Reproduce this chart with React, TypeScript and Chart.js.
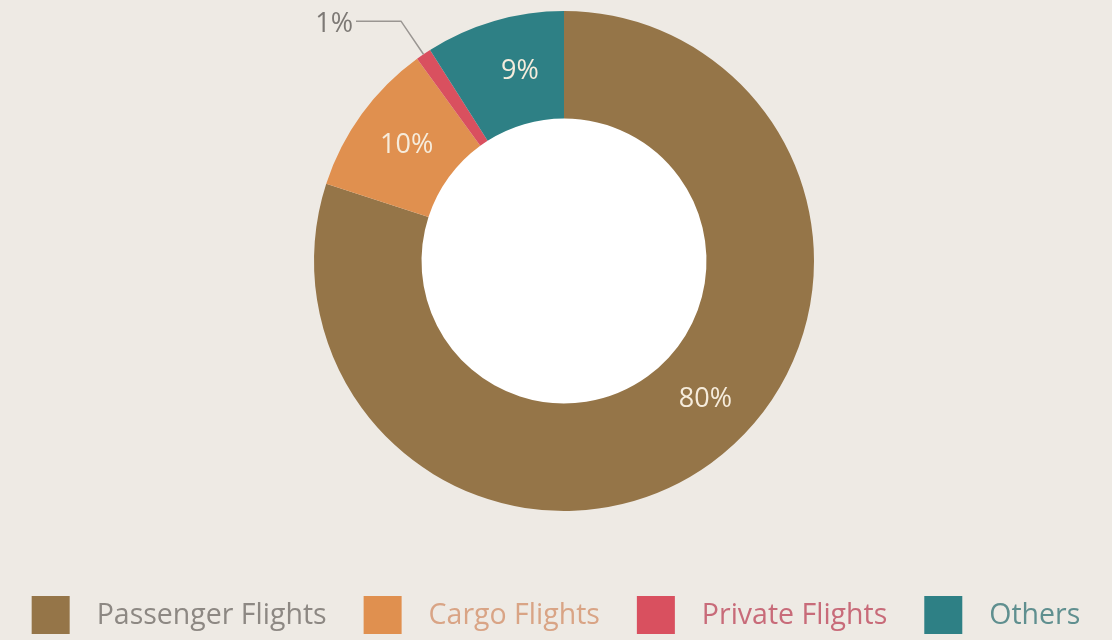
import React, { useEffect, useRef } from "react";
import { Chart, registerables } from "chart.js";

Chart.register(...registerables);

const categories = ["Passenger Flights", "Cargo Flights", "Private Flights", "Others"];
const shares = [80, 10, 1, 9];
const sliceColors = ["#957548", "#E0904F", "#D9505F", "#2E8085"];
const legendTextColors = ["#8d8883", "#d9a485", "#c86b79", "#5f8f8f"];
const valueLabels = ["80%", "10%", "1%", "9%"];
// fraction along each slice's arc where its label sits; null = outside label with leader
const labelFractions: (number | null)[] = [0.465, 0.52, null, 0.6];

const BG = "#EEEAE4";
const FONT = "'Open Sans', 'DejaVu Sans', sans-serif";

const holePlugin = {
  id: "whiteHole",
  beforeDatasetsDraw(chart: any) {
    const ctx = chart.ctx as CanvasRenderingContext2D;
    const arc = chart.getDatasetMeta(0).data[0];
    if (!arc) return;
    const { x, y, innerRadius } = arc.getProps(["x", "y", "innerRadius"], true);
    ctx.save();
    ctx.fillStyle = "#ffffff";
    ctx.beginPath();
    ctx.arc(x, y, innerRadius + 1, 0, Math.PI * 2);
    ctx.fill();
    ctx.restore();
  },
};

const labelPlugin = {
  id: "sliceLabels",
  afterDatasetsDraw(chart: any) {
    const ctx = chart.ctx as CanvasRenderingContext2D;
    const meta = chart.getDatasetMeta(0);
    ctx.save();
    meta.data.forEach((arc: any, i: number) => {
      const { x, y, startAngle, endAngle, innerRadius, outerRadius } = arc.getProps(
        ["x", "y", "startAngle", "endAngle", "innerRadius", "outerRadius"],
        true
      );
      const frac = labelFractions[i];
      if (frac !== null) {
        const a = startAngle + (endAngle - startAngle) * frac;
        const r = (innerRadius + outerRadius) / 2;
        ctx.font = `400 27px ${FONT}`;
        ctx.fillStyle = "#f6ecdc";
        ctx.textAlign = "center";
        ctx.textBaseline = "middle";
        ctx.fillText(valueLabels[i], x + Math.cos(a) * r, y + Math.sin(a) * r + 2);
      } else {
        const a = (startAngle + endAngle) / 2;
        const px = x + Math.cos(a) * outerRadius;
        const py = y + Math.sin(a) * outerRadius;
        const ex = x + Math.cos(a) * (outerRadius + 40);
        const ey = y + Math.sin(a) * (outerRadius + 40);
        const hx = ex - 45;
        ctx.strokeStyle = "#9a9692";
        ctx.lineWidth = 1.5;
        ctx.beginPath();
        ctx.moveTo(px, py);
        ctx.lineTo(ex, ey);
        ctx.lineTo(hx, ey);
        ctx.stroke();
        ctx.font = `400 27px ${FONT}`;
        ctx.fillStyle = "#7d7975";
        ctx.textAlign = "right";
        ctx.textBaseline = "middle";
        ctx.fillText(valueLabels[i], hx - 3, ey + 3);
      }
    });
    ctx.restore();
  },
};

const legendPlugin = {
  id: "flowLegend",
  afterDraw(chart: any) {
    const ctx = chart.ctx as CanvasRenderingContext2D;
    const boxSize = 38;
    const boxGap = 27;
    const itemGap = 37;
    const boxTop = 596;
    ctx.save();
    ctx.font = `400 28.5px ${FONT}`;
    const widths = categories.map((n) => ctx.measureText(n).width);
    const total =
      widths.reduce((s, w) => s + boxSize + boxGap + w, 0) + itemGap * (categories.length - 1);
    let bx = (chart.width - total) / 2;
    categories.forEach((name, i) => {
      ctx.fillStyle = sliceColors[i];
      ctx.fillRect(bx, boxTop, boxSize, boxSize);
      ctx.fillStyle = legendTextColors[i];
      ctx.textAlign = "left";
      ctx.textBaseline = "middle";
      ctx.fillText(name, bx + boxSize + boxGap, boxTop + boxSize / 2 + 1);
      bx += boxSize + boxGap + widths[i] + itemGap;
    });
    ctx.restore();
  },
};

export default function App() {
  const ref = useRef<HTMLCanvasElement | null>(null);
  useEffect(() => {
    if (!ref.current) return;
    const chart = new Chart(ref.current, {
      type: "doughnut",
      data: {
        labels: categories,
        datasets: [
          {
            data: shares,
            backgroundColor: sliceColors,
            borderWidth: 0,
          },
        ],
      },
      options: {
        animation: false,
        responsive: false,
        maintainAspectRatio: false,
        cutout: "57%",
        rotation: 0,
        layout: { padding: { top: 11, bottom: 129, left: 16, right: 0 } },
        plugins: {
          legend: { display: false },
          tooltip: { enabled: false },
        },
      },
      plugins: [holePlugin, labelPlugin, legendPlugin],
    });
    return () => chart.destroy();
  }, []);
  return (
    <div style={{ position: "fixed", left: 0, top: 0, width: 1112, height: 640, background: BG }}>
      <canvas ref={ref} width={1112} height={640} style={{ display: "block", width: 1112, height: 640 }} />
    </div>
  );
}
